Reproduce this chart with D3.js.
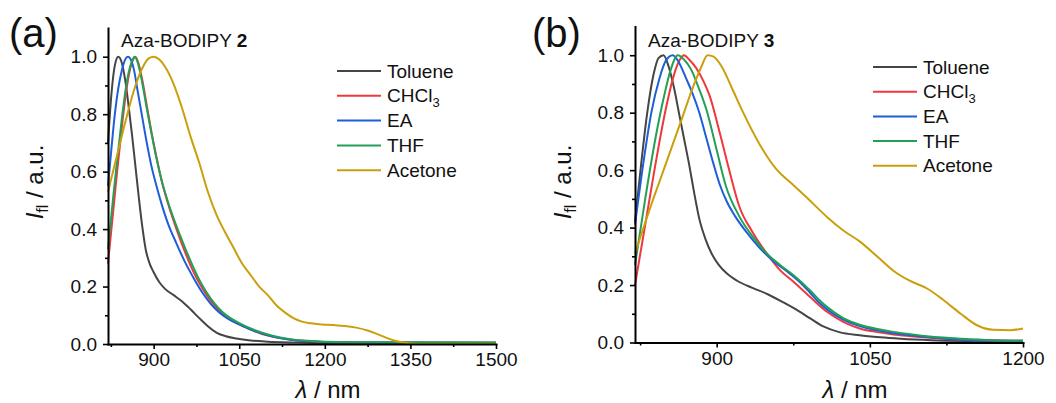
<!DOCTYPE html>
<html>
<head>
<meta charset="utf-8">
<script src="https://cdn.jsdelivr.net/npm/d3@7"></script>
<style>
  html, body { margin: 0; padding: 0; background: #fff; }
  svg { display: block; }
  text { font-family: "Liberation Sans", Arial, sans-serif; fill: #111; }
</style>
</head>
<body>
<svg id="chart" width="1056" height="403"></svg>
<script>
// ---------- DATA ----------
const seriesNames = ["Toluene", "CHCl3", "EA", "THF", "Acetone"];
const seriesColors = ["#454545", "#f0383c", "#1c5fd8", "#22a055", "#c9a00c"];

const yTicks = [0, 0.2, 0.4, 0.6, 0.8, 1.0];
const yMinorTicks = [0.1, 0.3, 0.5, 0.7, 0.9];
const xTicksA = [900, 1050, 1200, 1350, 1500];
const xMinorTicksA = [825, 975, 1125, 1275, 1425];
const xTicksB = [900, 1050, 1200];
const xMinorTicksB = [825, 975, 1125];

// Panel (a): Aza-BODIPY 2  [wavelength nm, normalized intensity]
const aToluene = [[820,0.70],[826,0.87],[832,0.97],[838,1.0],[844,0.98],[850,0.92],[856,0.83],[862,0.73],[868,0.62],[874,0.51],[880,0.41],[886,0.33],[893,0.28],[900,0.25],[910,0.215],[920,0.192],[935,0.17],[950,0.148],[965,0.12],[980,0.09],[995,0.062],[1010,0.04],[1025,0.028],[1045,0.019],[1070,0.012],[1100,0.008],[1150,0.005],[1200,0.003],[1300,0.002],[1500,0.002]];
const aCHCl3 = [[820,0.28],[828,0.44],[836,0.60],[844,0.75],[852,0.88],[858,0.95],[864,0.99],[868,1.0],[873,0.98],[880,0.92],[888,0.83],[896,0.74],[905,0.65],[915,0.56],[925,0.49],[940,0.40],[955,0.32],[970,0.25],[985,0.195],[1000,0.15],[1015,0.115],[1030,0.09],[1050,0.068],[1070,0.05],[1090,0.035],[1110,0.025],[1140,0.015],[1170,0.01],[1200,0.007],[1300,0.005],[1500,0.004]];
const aEA = [[820,0.55],[826,0.68],[832,0.80],[838,0.89],[844,0.95],[850,0.99],[855,1.0],[860,0.99],[866,0.95],[872,0.88],[880,0.79],[888,0.70],[896,0.62],[905,0.55],[915,0.48],[925,0.42],[940,0.35],[955,0.285],[970,0.23],[985,0.18],[1000,0.14],[1015,0.11],[1030,0.088],[1050,0.068],[1070,0.05],[1090,0.036],[1110,0.025],[1140,0.015],[1170,0.01],[1200,0.007],[1300,0.005],[1500,0.004]];
const aTHF = [[820,0.33],[828,0.49],[836,0.64],[844,0.78],[852,0.90],[858,0.96],[863,0.99],[867,1.0],[872,0.98],[879,0.92],[887,0.83],[895,0.745],[904,0.655],[914,0.57],[925,0.495],[940,0.41],[955,0.335],[970,0.265],[985,0.205],[1000,0.158],[1015,0.122],[1030,0.096],[1050,0.073],[1070,0.054],[1090,0.039],[1110,0.028],[1140,0.017],[1170,0.011],[1200,0.008],[1300,0.006],[1500,0.005]];
const aAcetone = [[820,0.53],[835,0.65],[850,0.77],[865,0.88],[880,0.96],[892,0.995],[900,1.0],[910,0.99],[920,0.965],[935,0.905],[950,0.82],[965,0.72],[980,0.63],[995,0.53],[1010,0.45],[1025,0.39],[1040,0.335],[1055,0.28],[1070,0.24],[1085,0.2],[1100,0.17],[1115,0.135],[1130,0.11],[1145,0.09],[1160,0.078],[1175,0.072],[1195,0.068],[1215,0.066],[1235,0.063],[1255,0.057],[1275,0.047],[1290,0.036],[1305,0.024],[1320,0.013],[1335,0.006],[1350,0.002],[1375,0],[1500,0]];

// Panel (b): Aza-BODIPY 3
const bToluene = [[820,0.42],[826,0.62],[832,0.80],[838,0.93],[843,0.99],[848,1.0],[853,0.96],[858,0.89],[863,0.80],[868,0.71],[873,0.62],[878,0.52],[883,0.43],[889,0.36],[895,0.31],[902,0.27],[910,0.24],[920,0.215],[935,0.19],[950,0.168],[965,0.14],[980,0.11],[992,0.083],[1005,0.055],[1020,0.036],[1040,0.025],[1060,0.018],[1080,0.013],[1110,0.008],[1150,0.005],[1200,0.003]];
const bCHCl3 = [[820,0.20],[830,0.41],[840,0.62],[850,0.81],[858,0.93],[864,0.985],[868,1.0],[873,0.985],[880,0.955],[887,0.91],[893,0.86],[903,0.73],[913,0.59],[922,0.475],[935,0.385],[949,0.31],[962,0.252],[975,0.212],[991,0.16],[1008,0.107],[1024,0.072],[1040,0.049],[1056,0.037],[1073,0.028],[1090,0.022],[1106,0.017],[1122,0.013],[1140,0.01],[1170,0.007],[1200,0.006]];
const bEA = [[820,0.41],[828,0.62],[836,0.80],[844,0.92],[850,0.98],[857,1.0],[863,0.975],[870,0.92],[876,0.87],[883,0.80],[890,0.71],[897,0.62],[903,0.55],[910,0.49],[918,0.44],[929,0.385],[942,0.33],[955,0.285],[968,0.25],[980,0.215],[991,0.175],[1000,0.14],[1010,0.11],[1024,0.08],[1040,0.057],[1056,0.043],[1073,0.032],[1090,0.025],[1106,0.019],[1122,0.014],[1140,0.01],[1170,0.007],[1200,0.006]];
const bTHF = [[820,0.27],[830,0.50],[840,0.71],[848,0.85],[855,0.95],[862,1.0],[868,0.985],[875,0.95],[882,0.89],[890,0.81],[900,0.67],[909,0.545],[922,0.44],[935,0.37],[949,0.31],[962,0.27],[975,0.235],[991,0.183],[1000,0.15],[1008,0.124],[1024,0.085],[1040,0.062],[1056,0.048],[1073,0.037],[1090,0.029],[1106,0.022],[1122,0.017],[1140,0.013],[1170,0.008],[1200,0.006]];
const bAcetone = [[820,0.31],[835,0.47],[850,0.62],[865,0.77],[878,0.9],[885,0.96],[891,1.0],[897,0.995],[905,0.96],[915,0.885],[926,0.8],[942,0.69],[958,0.605],[975,0.548],[991,0.495],[1008,0.437],[1024,0.39],[1040,0.352],[1057,0.3],[1073,0.25],[1089,0.215],[1106,0.188],[1122,0.148],[1139,0.1],[1155,0.06],[1171,0.044],[1188,0.043],[1200,0.049]];

// ---------- DRAW ----------
const svg = d3.select("#chart");
svg.append("rect").attr("width", 1056).attr("height", 403).attr("fill", "#fff");

function panel(opts) {
  const g = svg.append("g");
  const x = d3.scaleLinear().domain(opts.xDomain).range(opts.xRange);
  const y = d3.scaleLinear().domain([0, 1.1]).range(opts.yRange);

  // curves
  const line = d3.line().x(d => x(d[0])).y(d => y(d[1])).curve(d3.curveMonotoneX);
  opts.series.forEach((s, i) => {
    g.append("path").datum(s).attr("d", line)
      .attr("fill", "none").attr("stroke", seriesColors[i])
      .attr("stroke-width", 2).attr("stroke-linejoin", "round");
  });

  // y axis
  g.append("g").attr("transform", `translate(${opts.xRange[0]},0)`)
    .call(d3.axisLeft(y).tickValues(yTicks).tickFormat(d3.format(".1f")).tickSize(5).tickSizeOuter(0).tickPadding(6));
  g.append("g").attr("transform", `translate(${opts.xRange[0]},0)`)
    .call(d3.axisLeft(y).tickValues(yMinorTicks).tickFormat("").tickSize(3).tickSizeOuter(0))
    .select(".domain").remove();
  // x axis
  g.append("g").attr("transform", `translate(0,${opts.yRange[0]})`)
    .call(d3.axisBottom(x).tickValues(opts.xTicks).tickFormat(d3.format("d")).tickSize(5).tickSizeOuter(0).tickPadding(4));
  g.append("g").attr("transform", `translate(0,${opts.yRange[0]})`)
    .call(d3.axisBottom(x).tickValues(opts.xMinor).tickFormat("").tickSize(3).tickSizeOuter(0))
    .select(".domain").remove();

  g.selectAll(".domain").attr("stroke", "#000").attr("stroke-width", 2).attr("stroke-linecap", "square");
  g.selectAll(".tick line").attr("stroke", "#000").attr("stroke-width", 1.6);
  g.selectAll(".tick text").attr("font-size", 19).attr("fill", "#111")
    .attr("font-family", '"Liberation Sans", Arial, sans-serif');

  // axis titles
  const xt = g.append("text").attr("x", opts.xTitleX).attr("y", 398)
    .attr("text-anchor", "middle").attr("font-size", 24);
  xt.append("tspan").attr("font-style", "italic").text("λ");
  xt.append("tspan").text(" / nm");

  const yt = g.append("text")
    .attr("transform", `translate(${opts.yTitleX},${opts.yTitleY}) rotate(-90)`)
    .attr("text-anchor", "middle").attr("font-size", 24);
  yt.append("tspan").attr("font-style", "italic").text("I");
  yt.append("tspan").attr("font-size", 16).attr("dy", 5).text("fl");
  yt.append("tspan").attr("dy", -5).text(" / a.u.");

  // panel label
  g.append("text").attr("x", opts.labelX).attr("y", 47).attr("font-size", 40).text(opts.label);

  // compound label
  const ct = g.append("text").attr("x", opts.xRange[0] + 13).attr("y", 47).attr("font-size", 19);
  ct.append("tspan").text("Aza-BODIPY ");
  ct.append("tspan").attr("font-weight", "bold").text(opts.compound);

  // legend
  seriesNames.forEach((name, i) => {
    const ly = opts.legY + i * opts.legDy;
    g.append("line").attr("x1", opts.legX).attr("x2", opts.legX + 44)
      .attr("y1", ly).attr("y2", ly).attr("stroke", seriesColors[i]).attr("stroke-width", 2);
    const t = g.append("text").attr("x", opts.legX + 50).attr("y", ly).attr("dy", "0.35em").attr("font-size", 19);
    if (name === "CHCl3") {
      t.append("tspan").text("CHCl");
      t.append("tspan").attr("font-size", 13).attr("dy", 5).text("3");
    } else {
      t.text(name);
    }
  });
}

panel({
  xDomain: [820, 1500], xRange: [108, 496], yRange: [344, 28],
  xTicks: xTicksA, xMinor: xMinorTicksA,
  series: [aToluene, aCHCl3, aEA, aTHF, aAcetone],
  xTitleX: 328, yTitleX: 43, yTitleY: 182,
  label: "(a)", labelX: 9, compound: "2",
  legX: 337, legY: 71, legDy: 24.8
});
panel({
  xDomain: [820, 1200], xRange: [635, 1023], yRange: [342.5, 26.5],
  xTicks: xTicksB, xMinor: xMinorTicksB,
  series: [bToluene, bCHCl3, bEA, bTHF, bAcetone],
  xTitleX: 855, yTitleX: 571, yTitleY: 182,
  label: "(b)", labelX: 532, compound: "3",
  legX: 873, legY: 67, legDy: 24.7
});
</script>
</body>
</html>
